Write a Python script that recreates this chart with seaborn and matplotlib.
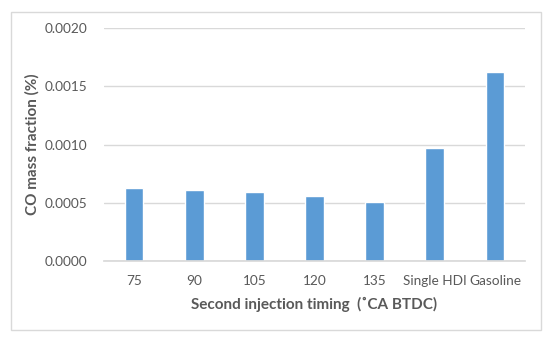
import matplotlib
matplotlib.use("Agg")
import matplotlib.pyplot as plt
import seaborn as sns
import pandas as pd
from matplotlib.patches import Rectangle

categories = ["75", "90", "105", "120", "135", "Single HDI", "Gasoline"]
co_values = [0.000629, 0.000609, 0.000590, 0.000558, 0.000504, 0.000967, 0.00162]
y_ticks = [0.0, 0.0005, 0.0010, 0.0015, 0.0020]

df = pd.DataFrame({"timing": categories, "co": co_values})

sns.set_theme(style="white")
plt.rcParams["font.family"] = ["Lato", "DejaVu Sans"]

fig = plt.figure(figsize=(5.5, 3.41), dpi=100)
fig.patch.set_facecolor("white")
fig.patches.append(Rectangle((11 / 550, 1 - 330 / 341), 530 / 550, 318 / 341,
                             transform=fig.transFigure, fill=False,
                             edgecolor="#D9D9D9", linewidth=1))

ax = fig.add_axes([104 / 550, 1 - 261 / 341, 421 / 550, 233 / 341])
sns.barplot(data=df, x="timing", y="co", color="#5B9BD5", width=0.31,
            saturation=1, ax=ax)

ax.set_ylim(0, 0.002)
ax.set_yticks(y_ticks)
ax.set_yticklabels([f"{v:.4f}" for v in y_ticks])
ax.yaxis.grid(True, color="#D9D9D9", linewidth=1)
ax.set_axisbelow(True)
for s in ["top", "right", "left"]:
    ax.spines[s].set_visible(False)
ax.spines["bottom"].set_color("#D9D9D9")
ax.tick_params(axis="both", length=0, labelsize=9.8, colors="#595959")
ax.tick_params(axis="y", pad=12)
ax.tick_params(axis="x", pad=10)

ax.set_xlabel("Second injection timing  (\u02daCA BTDC)", fontsize=11,
              fontweight="bold", color="#595959", labelpad=7)
ax.set_ylabel("CO mass fraction (%)", fontsize=11, fontweight="bold",
              color="#595959")
ax.yaxis.set_label_coords(-64 / 421, 0.5)

fig.savefig("out.png", dpi=100)
